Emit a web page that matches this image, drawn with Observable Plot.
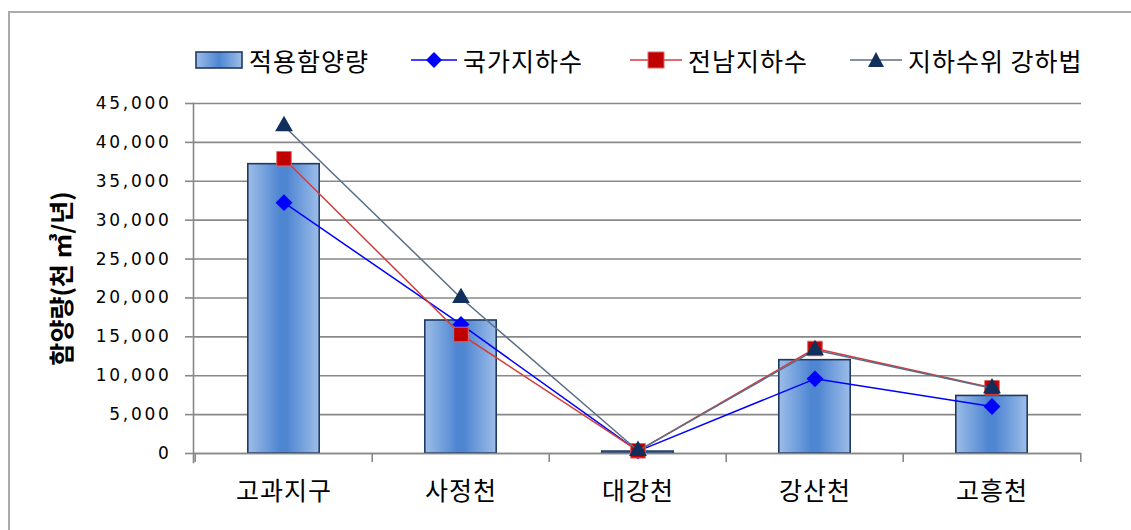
<!DOCTYPE html>
<html>
<head>
<meta charset="utf-8">
<script src="https://cdn.jsdelivr.net/npm/d3@7"></script>
<script src="https://cdn.jsdelivr.net/npm/@observablehq/plot@0.6"></script>
<style>
  html, body { margin: 0; padding: 0; background: #fff; }
  #wrap { position: relative; width: 1131px; height: 530px; overflow: hidden; background: #fff; }
  #border { position: absolute; left: 8px; top: 11px; width: 1200px; height: 600px;
            border-left: 2px solid #ababab; border-top: 2px solid #ababab; }
  #chart { position: absolute; left: 0; top: 0; }
  .leg { position: absolute; top: 45px; height: 30px; display: flex; align-items: center;
         font-family: "Noto Sans CJK KR", sans-serif; font-size: 25px; letter-spacing: 1px; color: #000; white-space: nowrap; }
  .leg svg { margin-right: 6px; }
  g[aria-label="y-axis tick label"] text { letter-spacing: 2.7px; }
  g[aria-label="x-axis tick label"] text { letter-spacing: 1px; }
</style>
</head>
<body>
<div id="wrap">
  <div id="border"></div>
  <div id="chart"></div>
  <div id="legend"></div>
</div>
<script>
const categories = ["고과지구", "사정천", "대강천", "강산천", "고흥천"];
const appliedRecharge = [37200, 17100, 250, 12000, 7400];      // 적용함양량 (bars)
const nationalGW = [32250, 16600, 300, 9600, 6050];             // 국가지하수
const jeonnamGW = [37900, 15300, 350, 13500, 8450];             // 전남지하수
const waterLevelDrop = [42100, 20000, 350, 13300, 8400];        // 지하수위 강하법
const yTicks = [0, 5000, 10000, 15000, 20000, 25000, 30000, 35000, 40000, 45000];

const seriesNames = ["적용함양량", "국가지하수", "전남지하수", "지하수위 강하법"];

const W = 1131, H = 530;
const mL = 193, mR = 50, mT = 103, mB = 77;
const step = (W - mL - mR) / categories.length;
const barW = 72;
const inset = (step - barW) / 2;

const bars = categories.map((c, i) => ({cat: c, v: appliedRecharge[i]}));
const s1 = categories.map((c, i) => ({cat: c, v: nationalGW[i]}));
const s2 = categories.map((c, i) => ({cat: c, v: jeonnamGW[i]}));
const s3 = categories.map((c, i) => ({cat: c, v: waterLevelDrop[i]}));

const cBlue = "#0000ff";
const cRedLine = "#d43c3c", cRedMark = "#c00000";
const cNavyLine = "#5a6e88", cNavyMark = "#112f5c";

const fmt = d3.format(",");

const plot = Plot.plot({
  width: W, height: H,
  marginLeft: mL, marginRight: mR, marginTop: mT, marginBottom: mB,
  style: {background: "transparent", fontFamily: "'DejaVu Sans', sans-serif", overflow: "visible"},
  x: {type: "band", domain: categories, padding: 0},
  y: {domain: [0, 45000]},
  marks: [
    Plot.gridY(yTicks, {stroke: "#888888", strokeOpacity: 1, strokeWidth: 1.6}),
    Plot.frame({anchor: "left", stroke: "#888888", strokeWidth: 1.6, insetBottom: -9}),
    Plot.axisY({ticks: yTicks, tickSize: 8, tickPadding: 14, tickFormat: fmt, fontSize: 17,
                stroke: "#888888", strokeWidth: 1.6, label: null,
                fontFamily: "'DejaVu Sans', sans-serif", fill: "#000"}),
    Plot.axisX({tickSize: 0, tickPadding: 29, fontSize: 25, label: null,
                fontFamily: "'Noto Sans CJK KR', sans-serif"}),
    Plot.text(["함양량(천 ㎥/년)"], {frameAnchor: "left", textAnchor: "middle", dx: -131, rotate: -90, fontSize: 25,
                fontWeight: "bold", fontFamily: "'Noto Sans CJK KR', sans-serif", fill: "#000"}),
    Plot.barY(bars, {x: "cat", y: "v", fill: "url(#barGrad)", stroke: "#1f3a60", strokeWidth: 1.6,
                     insetLeft: inset, insetRight: inset}),
    Plot.ruleY([0], {stroke: "#888888", strokeWidth: 1.6}),
    Plot.ruleX(categories, {x: d => d, dx: -step / 2, y1: 0, y2: 0, insetBottom: -9, stroke: "#888888", strokeWidth: 1.6}),
    Plot.ruleX([categories[categories.length - 1]], {x: d => d, dx: step / 2, y1: 0, y2: 0, insetBottom: -9, stroke: "#888888", strokeWidth: 1.6}),
    Plot.line(s1, {x: "cat", y: "v", stroke: cBlue, strokeWidth: 1.5}),
    Plot.dot(s1, {x: "cat", y: "v", symbol: d3.symbolDiamond2, r: 7.6, fill: cBlue, stroke: "none"}),
    Plot.line(s2, {x: "cat", y: "v", stroke: cRedLine, strokeWidth: 1.5}),
    Plot.dot(s2, {x: "cat", y: "v", symbol: "square", r: 8.2, fill: cRedMark, stroke: "#e06666", strokeWidth: 1}),
    Plot.line(s3, {x: "cat", y: "v", stroke: cNavyLine, strokeWidth: 1.5}),
    Plot.dot(s3, {x: "cat", y: "v", symbol: "triangle", r: 6.6, fill: cNavyMark, stroke: "none"})
  ]
});

// gradient definition for bars
const ns = "http://www.w3.org/2000/svg";
const defs = document.createElementNS(ns, "defs");
defs.innerHTML = `
  <linearGradient id="barGrad" x1="0" x2="1" y1="0" y2="0">
    <stop offset="0" stop-color="#9dbde8"/>
    <stop offset="0.45" stop-color="#4f86d2"/>
    <stop offset="0.55" stop-color="#4f86d2"/>
    <stop offset="1" stop-color="#9dbde8"/>
  </linearGradient>`;
plot.insertBefore(defs, plot.firstChild);
document.getElementById("chart").appendChild(plot);

// legend
const legend = document.getElementById("legend");
const legendItems = [
  {left: 195, name: seriesNames[0], svg: `<svg width="48" height="20"><defs><linearGradient id="legGrad2" x1="0" x2="1"><stop offset="0" stop-color="#9dbde8"/><stop offset="0.5" stop-color="#4f86d2"/><stop offset="1" stop-color="#9dbde8"/></linearGradient></defs><rect x="1" y="2" width="46" height="16" fill="url(#legGrad2)" stroke="#1f3a60" stroke-width="1.6"/></svg>`},
  {left: 411, name: seriesNames[1], svg: `<svg width="46" height="20"><line x1="0" x2="46" y1="10" y2="10" stroke="${cBlue}" stroke-width="1.5"/><path d="M23,2 L31,10 L23,18 L15,10Z" fill="${cBlue}"/></svg>`},
  {left: 630, name: seriesNames[2], svg: `<svg width="52" height="20"><line x1="0" x2="52" y1="10" y2="10" stroke="${cRedLine}" stroke-width="1.5"/><rect x="18" y="2" width="16" height="16" fill="${cRedMark}" stroke="#e06666" stroke-width="1"/></svg>`},
  {left: 850, name: seriesNames[3], svg: `<svg width="52" height="20"><line x1="0" x2="52" y1="10" y2="10" stroke="${cNavyLine}" stroke-width="1.5"/><path d="M26,2 L34,17 L18,17Z" fill="${cNavyMark}"/></svg>`}
];
for (const it of legendItems) {
  const d = document.createElement("div");
  d.className = "leg";
  d.style.left = it.left + "px";
  d.innerHTML = it.svg + `<span>${it.name}</span>`;
  legend.appendChild(d);
}
</script>
</body>
</html>
